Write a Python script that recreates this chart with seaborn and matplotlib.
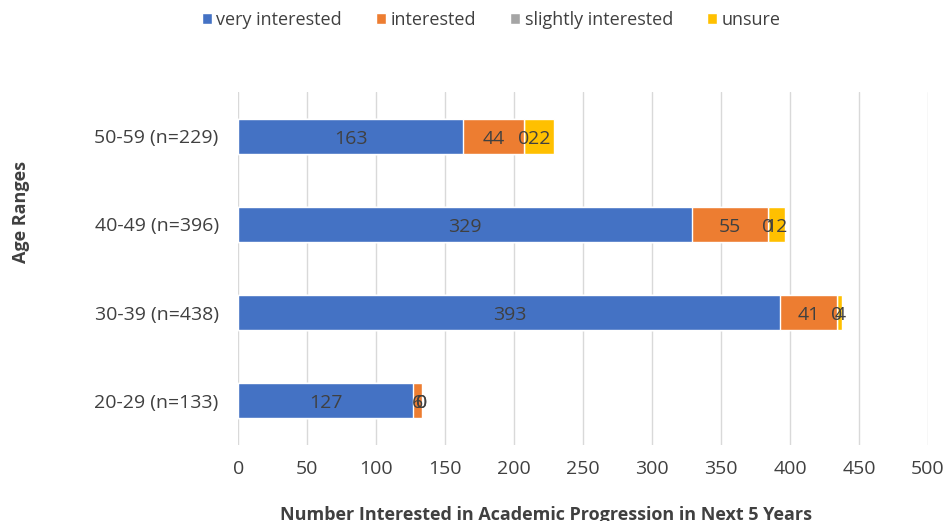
import matplotlib
matplotlib.use("Agg")
import matplotlib.pyplot as plt
import seaborn as sns
import pandas as pd
import numpy as np
from matplotlib.patches import Patch

# data
age_groups = ["50-59 (n=229)", "40-49 (n=396)", "30-39 (n=438)", "20-29 (n=133)"]
very_interested = [163, 329, 393, 127]
interested = [44, 55, 41, 6]
slightly_interested = [0, 0, 0, 0]
unsure = [22, 12, 4, 0]

series_names = ["very interested", "interested", "slightly interested", "unsure"]
series_colors = ["#4472C4", "#ED7D31", "#A5A5A5", "#FFC000"]

sns.set_style("white")
plt.rcParams["font.family"] = ["Open Sans", "DejaVu Sans"]

df = pd.DataFrame({
    "age": age_groups,
    "very interested": very_interested,
    "interested": interested,
    "slightly interested": slightly_interested,
    "unsure": unsure,
})
values = df[series_names].to_numpy(dtype=float)
cum = np.cumsum(values, axis=1)

fig = plt.figure(figsize=(9.45, 5.21), dpi=100)
ax = fig.add_axes([0.252, 0.146, 0.730, 0.677])

# stacked bars: draw cumulative totals from the outermost segment inwards
for i in range(len(series_names) - 1, -1, -1):
    sns.barplot(x=cum[:, i], y=df["age"], orient="h", color=series_colors[i],
                width=0.4, saturation=1, ax=ax, zorder=2)

# segment labels
for r in range(len(age_groups)):
    for i in range(len(series_names)):
        start = cum[r, i] - values[r, i]
        ax.text(start + values[r, i] / 2, r + 0.03, f"{int(values[r, i])}",
                ha="center", va="center", fontsize=14, color="#404040", zorder=3)

ax.set_xlim(0, 500)
ax.set_xticks(np.arange(0, 501, 50))
ax.grid(axis="x", color="#D9D9D9", linewidth=1, zorder=0)
ax.set_axisbelow(True)
for s in ax.spines.values():
    s.set_visible(False)
ax.tick_params(axis="both", length=0, labelsize=14, colors="#404040")
ax.tick_params(axis="x", pad=11)
ax.tick_params(axis="y", pad=14)

ax.set_xlabel("Number Interested in Academic Progression in Next 5 Years",
              fontsize=13, fontweight="bold", color="#404040")
ax.xaxis.set_label_coords(0.446, -0.172)
ax.set_ylabel("Age Ranges", fontsize=13, fontweight="bold", color="#404040")
ax.yaxis.set_label_coords(-0.302, 0.66)

handles = [Patch(facecolor=c, label=n) for n, c in zip(series_names, series_colors)]
fig.legend(handles=handles, loc="center", bbox_to_anchor=(0.52, 0.962), ncol=4,
           frameon=False, fontsize=13, handlelength=0.55, handleheight=0.55,
           handletextpad=0.25, columnspacing=1.9, labelcolor="#404040")

fig.savefig("out.png", dpi=100)
